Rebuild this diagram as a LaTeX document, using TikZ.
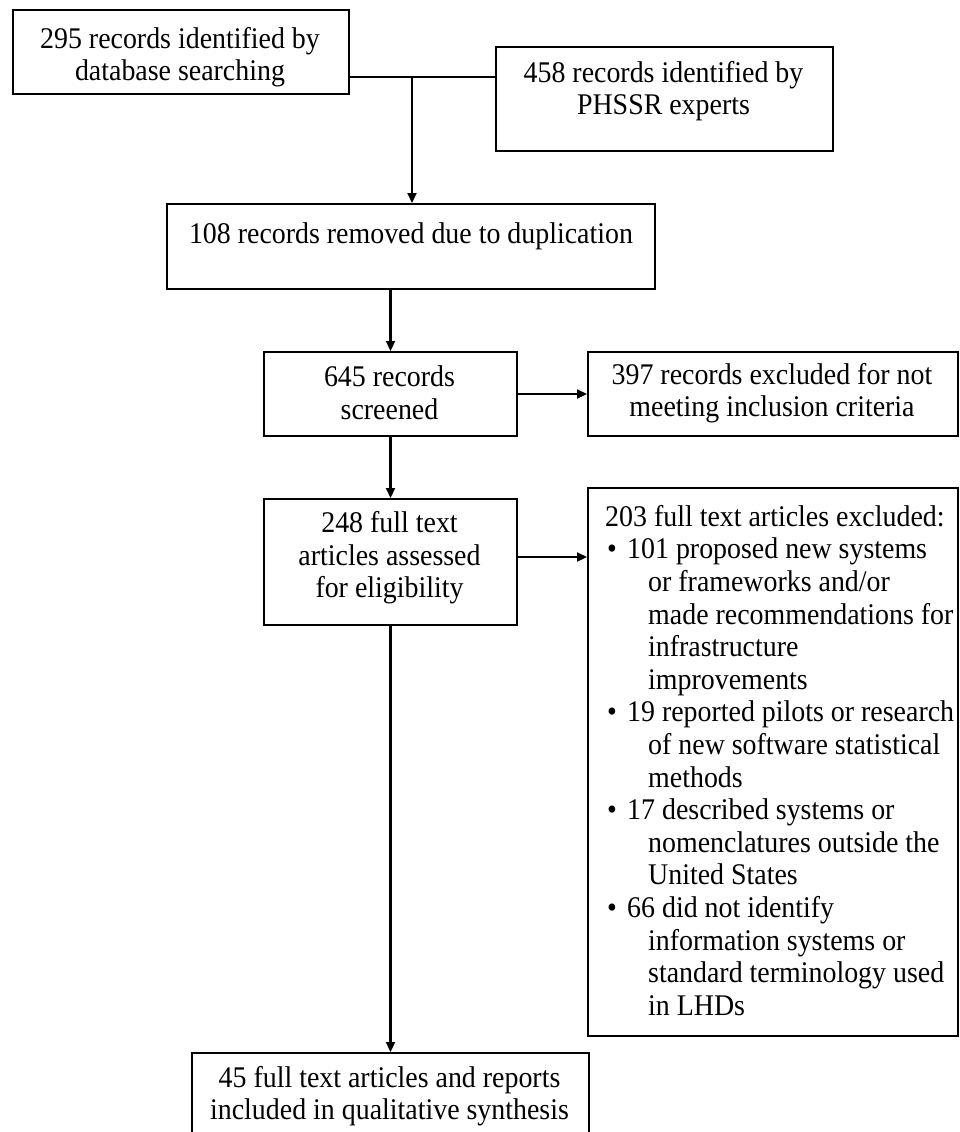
\documentclass[tikz,border=0pt]{standalone}
\usepackage{fontspec}
\setmainfont{Liberation Serif}[FakeStretch=0.93]
\usetikzlibrary{arrows.meta}
\begin{document}
\begin{tikzpicture}[x=1pt,y=-1pt,
  box/.style={draw, line width=2pt, inner sep=0pt, anchor=north west},
  txt/.style={font=\fontsize{30}{32.6}\selectfont, align=center, inner sep=0pt},
  ltxt/.style={font=\fontsize{30}{32.6}\selectfont, align=left, inner sep=0pt, anchor=north west},
  arr/.style={line width=2.2pt, -{Triangle[length=10pt,width=9pt]}},
  conn/.style={line width=2.2pt}]
\useasboundingbox (0,0) rectangle (959,1132);
\clip (0,0) rectangle (959,1132);
\fill[white] (0,0) rectangle (959,1132);

% boxes
\node[box, minimum width=336pt, minimum height=84pt] (a) at (12,9) {};
\node[box, minimum width=337pt, minimum height=104pt] (b) at (495,46) {};
\node[box, minimum width=488pt, minimum height=85pt] (c) at (166,203) {};
\node[box, minimum width=253pt, minimum height=84pt] (d) at (263,351) {};
\node[box, minimum width=370pt, minimum height=84pt] (e) at (587,351) {};
\node[box, minimum width=253pt, minimum height=126pt] (f) at (263,498) {};
\node[box, minimum width=370pt, minimum height=548pt] (g) at (587,487) {};
\node[box, minimum width=397pt, minimum height=110pt] (h) at (191,1052) {};

% texts
\node[txt] (ta) at (180,57) {295 records identified by\\database searching};
\node[txt] (tb) at (663.5,91) {458 records identified by\\PHSSR experts};
\node[txt] (tc) at (411,236) {108 records removed due to duplication};
\node[txt] (td) at (389.5,393) {645 records\\screened};
\node[txt] (te) at (772,393) {397 records excluded for not\\meeting inclusion criteria};
\node[txt] (tf) at (389.5,558) {248 full text\\articles assessed\\for eligibility};
\node[txt] (th) at (389.5,1096) {45 full text articles and reports\\included in qualitative synthesis};
\node[ltxt] (tg) at (605,505) {203 full text articles excluded:\\
\hspace*{2pt}\makebox[20pt][l]{\textbullet}101 proposed new systems\\
\hspace*{43pt}or frameworks and/or\\
\hspace*{43pt}made recommendations for\\
\hspace*{43pt}infrastructure\\
\hspace*{43pt}improvements\\
\hspace*{2pt}\makebox[20pt][l]{\textbullet}19 reported pilots or research\\
\hspace*{43pt}of new software statistical\\
\hspace*{43pt}methods\\
\hspace*{2pt}\makebox[20pt][l]{\textbullet}17 described systems or\\
\hspace*{43pt}nomenclatures outside the\\
\hspace*{43pt}United States\\
\hspace*{2pt}\makebox[20pt][l]{\textbullet}66 did not identify\\
\hspace*{43pt}information systems or\\
\hspace*{43pt}standard terminology used\\
\hspace*{43pt}in LHDs};

% connectors
\coordinate (j) at (412,77);
\draw[conn] (a.east |- j) -- (b.west |- j);
\draw[arr] (j) -- (c.north -| j);
\draw[arr] (c.south -| d.north) -- (d.north);
\draw[arr] (d.east) -- (e.west);
\draw[arr] (d.south) -- (f.north);
\draw[arr] ([yshift=5pt]f.east) -- ([yshift=5pt]f.east -| g.west);
\draw[arr] (f.south) -- (h.north);
\end{tikzpicture}
\end{document}
